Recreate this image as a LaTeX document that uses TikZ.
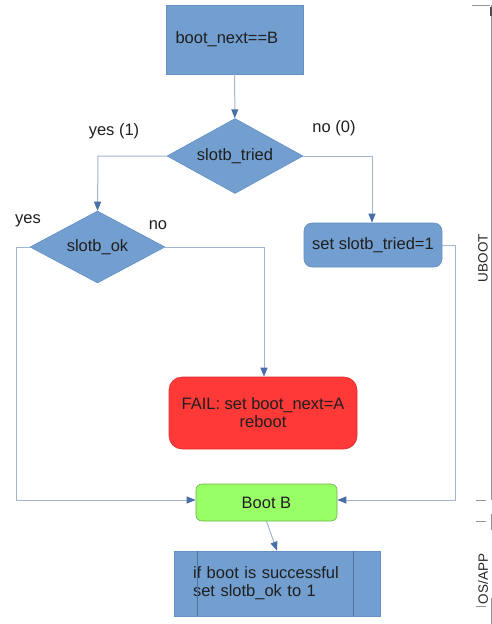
\documentclass[tikz,border=0pt]{standalone}
\usepackage{fontspec}
\setmainfont{Liberation Sans}
\usetikzlibrary{arrows.meta,positioning,shapes.geometric}
\definecolor{lbBlue}{HTML}{729FCF}
\definecolor{lbEdge}{HTML}{6490C6}
\definecolor{lbLine}{HTML}{A3B6CE}
\definecolor{lbTip}{HTML}{4A6FA8}
\definecolor{lbRed}{HTML}{FF3838}
\definecolor{lbGreen}{HTML}{99FF66}
\definecolor{lbLane}{HTML}{4D4D4D}
\tikzset{
  % Process steps: flat blue, thin edge.
  flow/box/.style={
    draw=lbEdge, fill=lbBlue, line width=0.6pt, inner sep=0pt, align=center,
    font=\fontsize{16.5}{18}\selectfont, text=black!88
  },
  % Decisions.
  flow/dec/.style={
    flow/box, diamond, aspect=1.8
  },
  % Connectors: pale line, darker tip.
  flow/arrow/.style={
    -{Triangle[length=9pt,width=7pt,color=lbTip]}, line width=1pt, draw=lbLine
  },
  % Branch labels.
  flow/label/.style={
    font=\fontsize{16.5}{18}\selectfont, text=black!88, inner sep=0pt
  },
  % Lane titles on the right.
  flow/lane/.style={
    font=\fontsize{13.5}{16}\selectfont, text=black!85, rotate=90, inner sep=0pt
  },
}

\begin{document}
\begin{tikzpicture}[x=1pt, y=-1pt,
  rbox/.style={flow/box, rounded corners=8pt},
  lanel/.style={draw=lbLane!60, line width=0.8pt}]
\useasboundingbox (0,0) rectangle (492,624);

% steps
\node[flow/box, minimum width=137pt, minimum height=69pt, text width=118pt, align=left]
  (next) at (234.5,39.5) {boot\_next==B};
\node[flow/dec, minimum width=136pt, minimum height=75pt] (tried) at (235,156) {slotb\_tried};
\node[flow/dec, minimum width=135pt, minimum height=72pt] (ok) at (97.5,247) {slotb\_ok};
\node[rbox, minimum width=138pt, minimum height=44pt] (settried) at (373,245) {set slotb\_tried=1};
\node[rbox, rounded corners=13pt, draw=lbRed!85!black, fill=lbRed,
      minimum width=188pt, minimum height=72pt] (fail) at (263,413) {FAIL: set boot\_next=A\\reboot};
\node[rbox, rounded corners=6pt, draw=lbGreen!70!black, fill=lbGreen,
      minimum width=141pt, minimum height=37pt] (bootb) at (266.5,502.5) {Boot B};
\node[flow/box, minimum width=206pt, minimum height=65pt, text width=168pt, align=left]
  (osbox) at (277,583.5) {if boot is successful\\set slotb\_ok to 1};
\draw[lbEdge!80!black, line width=0.6pt]
  ([xshift=24pt]osbox.north west) -- ([xshift=24pt]osbox.south west)
  ([xshift=-27pt]osbox.north east) -- ([xshift=-27pt]osbox.south east);

% branch labels
\node[flow/label] (lyes1) at (114,131) {yes (1)};
\node[flow/label] (lno0) at (334,128) {no (0)};
\node[flow/label] (lyes) at (28,221) {yes};
\node[flow/label] (lno) at (158,225) {no};

% connectors
\coordinate (c1) at (98,156);
\coordinate (c2) at (372,156);
\coordinate (c3) at (16,247);
\coordinate (c4) at (16,500);
\coordinate (c5) at (264,247);
\coordinate (c6) at (455,245);
\coordinate (c7) at (455,500);
\draw[flow/arrow] (next) -- (tried);
\draw[flow/arrow] (tried.west) -- (c1) -- (ok.north);
\draw[flow/arrow] (tried.east) -- (c2) -- (settried.north -| c2);
\draw[flow/arrow] (ok.west) -- (c3) -- (c4) -- (bootb.west |- c4);
\draw[flow/arrow] (ok.east) -- (c5) -- (fail.north -| c5);
\draw[flow/arrow] (settried.east) -- (c6) -- (c7) -- (bootb.east |- c7);
\draw[flow/arrow] (bootb.south) -- (osbox.north);

% lanes
\node[flow/lane] (uboot) at (483,258) {UBOOT};
\node[flow/lane] (osapp) at (483,579) {OS/APP};
\draw[lanel] (472,5) -- (490,5);
\draw[lbLane!60, line width=0.6pt] (491.5,5) -- (491.5,500);
\draw[lbLane, line width=2pt] (490.5,7) -- (490.5,16);
\draw[lanel] (476,500) -- (486,500) (476,521) -- (486,521) (476,606) -- (486,606);
\draw[lanel] (491.5,514) -- (491.5,530) (491.5,598) -- (491.5,624);
\end{tikzpicture}
\end{document}
